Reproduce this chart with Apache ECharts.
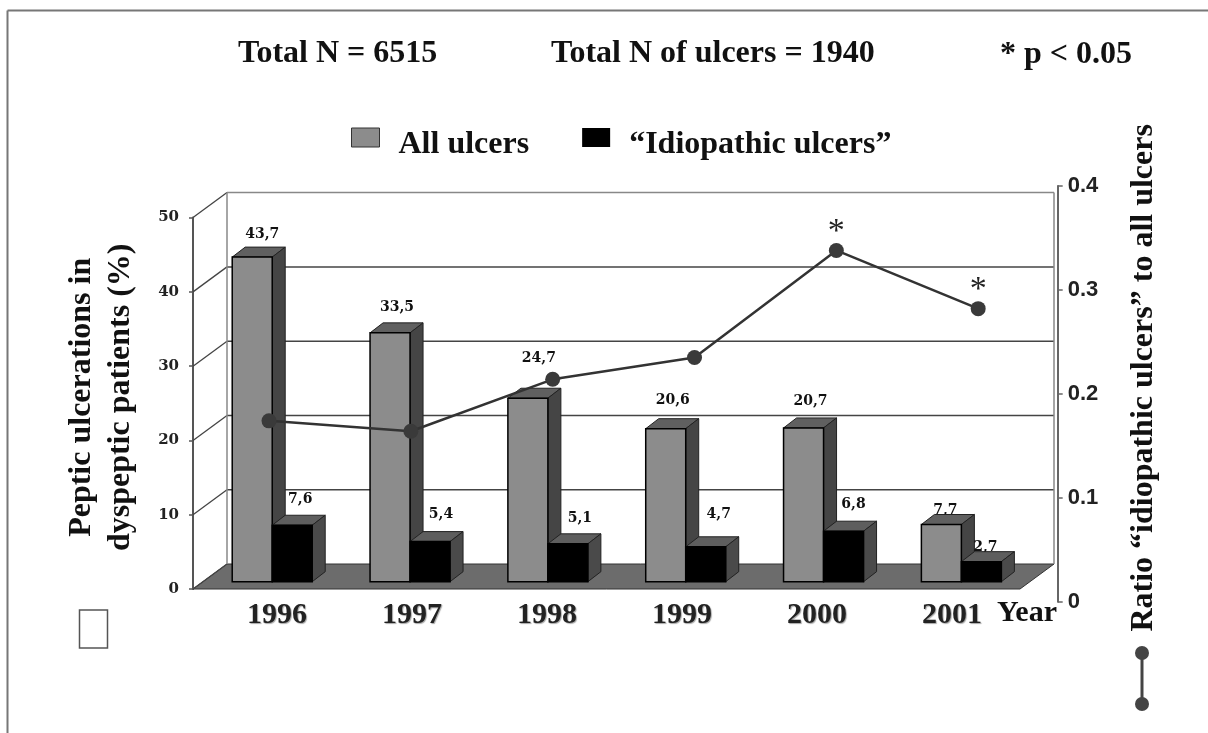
<!DOCTYPE html>
<html>
<head>
<meta charset="utf-8">
<title>Peptic ulcerations</title>
<style>
html, body { margin: 0; padding: 0; background: #fff; }
#chart { width: 1208px; height: 733px; }
</style>
<script src="https://cdn.jsdelivr.net/npm/echarts@6/dist/echarts.min.js"></script>
</head>
<body>
<div id="chart"></div>
<script>
// data
const years = ['1996', '1997', '1998', '1999', '2000', '2001'];
const allUlcers = [43.7, 33.5, 24.7, 20.6, 20.7, 7.7];
const idiopathicUlcers = [7.6, 5.4, 5.1, 4.7, 6.8, 2.7];
const ratio = [0.174, 0.164, 0.214, 0.235, 0.338, 0.282];
const significant = [false, false, false, false, true, true];
const leftTicks = [0, 10, 20, 30, 40, 50];

const SERIF = '"Liberation Serif", serif';
const WALL_DX = 34, WALL_DY = 25;   // depth of the 3d floor
const BAR_DX = 13, BAR_DY = 10;     // depth of a bar
const PLANE_DY = 7.3;               // bars stand this far behind the front edge
const BAR_W = 40;

// the labels are placed by hand in the figure: shift right and lift per year
const allLabelShift = [10, 7, 11, 7, 7, 4];
const allLabelLift = [13, 16, 30, 18, 17, 4];
const idioLabelShift = [8, 11, 12, 13, 10, 4];
const idioLabelLift = [16, 17, 15, 22, 17, 4];

// legend swatch sits higher than its text, the empty subpath pads the icon box
const SWATCH = 'path://M0 0L28 0L28 19L0 19ZM0 33L0 33Z';

const chart = echarts.init(document.getElementById('chart'));

// floor of the fake 3d box
function renderFloor(params, api) {
    const c = params.coordSys;
    const y = api.coord([0, 0])[1];
    return {
        type: 'polygon',
        shape: { points: [[c.x, y], [c.x + c.width, y], [c.x + c.width + WALL_DX, y - WALL_DY], [c.x + WALL_DX, y - WALL_DY]] },
        style: { fill: '#6c6c6c', stroke: '#333', lineWidth: 1 }
    };
}

// one wall line per left axis tick, plus the diagonal back to the axis
function renderWall(params, api) {
    const c = params.coordSys;
    const v = api.value(0);
    const y = api.coord([0, v])[1];
    const top = v === 50;
    const children = [
        { type: 'line', shape: { x1: c.x, y1: y, x2: c.x + WALL_DX, y2: y - WALL_DY }, style: { stroke: '#444', lineWidth: 1.3 } }
    ];
    if (v > 0) {
        children.push({
            type: 'line',
            shape: { x1: c.x + WALL_DX, y1: y - WALL_DY, x2: c.x + c.width + WALL_DX, y2: y - WALL_DY },
            style: { stroke: top ? '#888' : '#444', lineWidth: 1.5 }
        });
    }
    if (top) {
        const bottom = api.coord([0, 0])[1] - WALL_DY;
        [c.x + WALL_DX, c.x + c.width + WALL_DX].forEach(function(x) {
            children.push({
                type: 'line',
                shape: { x1: x, y1: y - WALL_DY, x2: x, y2: bottom },
                style: { stroke: '#888', lineWidth: 1.5 }
            });
        });
    }
    return { type: 'group', children: children };
}

// 3d bar, left is the shift of the front face from the category centre
function barRenderer(left, front, side, top, labelShift, labelLift) {
    return function(params, api) {
        const i = api.value(0);
        const v = api.value(1);
        const base = api.coord([i, 0]);
        const head = api.coord([i, v]);
        const x = base[0] + left;
        const y0 = base[1] - PLANE_DY;
        const y1 = head[1] - PLANE_DY;
        return {
            type: 'group',
            children: [
                {
                    type: 'text',
                    style: {
                        text: String(v).replace('.', ','),
                        x: x + BAR_W / 2 + labelShift[i],
                        y: y1 - BAR_DY - labelLift[i],
                        align: 'center',
                        verticalAlign: 'middle',
                        font: 'bold 14px "DejaVu Serif"',
                        fill: '#111'
                    }
                },
                {
                    type: 'polygon',
                    shape: { points: [[x, y1], [x + BAR_W, y1], [x + BAR_W + BAR_DX, y1 - BAR_DY], [x + BAR_DX, y1 - BAR_DY]] },
                    style: { fill: top, stroke: '#222', lineWidth: 1 }
                },
                {
                    type: 'polygon',
                    shape: { points: [[x + BAR_W, y1], [x + BAR_W + BAR_DX, y1 - BAR_DY], [x + BAR_W + BAR_DX, y0 - BAR_DY], [x + BAR_W, y0]] },
                    style: { fill: side, stroke: '#222', lineWidth: 1 }
                },
                {
                    type: 'rect',
                    shape: { x: x, y: y1, width: BAR_W, height: y0 - y1 },
                    style: { fill: front, stroke: '#000', lineWidth: 1.5 }
                }
            ]
        };
    };
}

const option = {
    backgroundColor: '#fff',
    animation: false,
    title: [
        { text: 'Total N = 6515', left: 238, top: 38 },
        { text: 'Total N of ulcers = 1940', left: 551, top: 38 },
        { text: '* p < 0.05', left: 1000, top: 39 },
        { text: 'Year', left: 997, top: 598, size: 30 }
    ].map(function(t) {
        t.textStyle = { fontFamily: SERIF, fontWeight: 'bold', fontSize: t.size || 32, color: '#111' };
        t.padding = 0;
        return t;
    }),
    legend: {
        left: 351,
        top: 127.5,
        padding: 0,
        itemWidth: 28,
        itemHeight: 33,
        itemGap: 53,
        data: [
            { name: 'All ulcers', icon: SWATCH, itemStyle: { borderColor: '#333', borderWidth: 1 } },
            { name: '“Idiopathic ulcers”', icon: SWATCH }
        ],
        textStyle: { fontFamily: SERIF, fontWeight: 'bold', fontSize: 32, color: '#111', padding: [0, 0, 0, 14] }
    },
    grid: [
        { left: 193, top: 217.6, width: 827, height: 371.4 },
        { left: 198.1, top: 186, width: 851, height: 415.7 },
        { left: 209.5, top: 590, width: 810, height: 1 }
    ],
    xAxis: [
        { type: 'category', gridIndex: 0, data: years, show: false },
        { type: 'category', gridIndex: 1, data: years, show: false },
        {
            type: 'category',
            gridIndex: 2,
            data: years,
            axisLine: { show: false },
            axisTick: { show: false },
            axisLabel: {
                margin: 9,
                fontFamily: SERIF,
                fontWeight: 'bold',
                fontSize: 30,
                color: '#222',
                textShadowColor: 'rgba(0,0,0,0.35)',
                textShadowBlur: 1,
                textShadowOffsetX: 1,
                textShadowOffsetY: 1
            }
        }
    ],
    yAxis: [
        {
            type: 'value',
            gridIndex: 0,
            min: 0,
            max: 50,
            interval: 10,
            name: 'Peptic ulcerations in\ndyspeptic patients (%)',
            nameLocation: 'middle',
            nameGap: 53,
            nameRotate: 90,
            nameTextStyle: { fontFamily: SERIF, fontWeight: 'bold', fontSize: 32, color: '#111', lineHeight: 39, padding: [0, 0, 0, 12] },
            axisLine: { show: true, lineStyle: { color: '#555', width: 2 } },
            axisTick: { show: true, length: 4, lineStyle: { color: '#555', width: 1.5 } },
            axisLabel: { margin: 14, fontFamily: '"DejaVu Serif"', fontWeight: 'bold', fontSize: 15, color: '#222' },
            splitLine: { show: false }
        },
        {
            type: 'value',
            gridIndex: 1,
            position: 'right',
            offset: 8.6,
            min: 0,
            max: 0.4,
            interval: 0.1,
            name: 'Ratio “idiopathic ulcers” to all ulcers',
            nameLocation: 'middle',
            nameGap: 70,
            nameRotate: 90,
            nameTextStyle: { fontFamily: SERIF, fontWeight: 'bold', fontSize: 32, color: '#111', padding: [0, 0, 0, 32] },
            axisLine: { show: true, lineStyle: { color: '#666', width: 2 } },
            axisTick: { show: true, length: 5, lineStyle: { color: '#666', width: 1.5 } },
            axisLabel: {
                margin: 10,
                fontFamily: '"Liberation Sans"',
                fontWeight: 'bold',
                fontSize: 22,
                color: '#222',
                formatter: function(v) { return v === 0 ? '0' : v.toFixed(1); }
            },
            splitLine: { show: false }
        },
        { type: 'value', gridIndex: 2, show: false }
    ],
    series: [
        {
            name: 'floor',
            type: 'custom',
            xAxisIndex: 0,
            yAxisIndex: 0,
            z: 1,
            silent: true,
            clip: false,
            renderItem: renderFloor,
            data: [[0, 0]]
        },
        {
            name: 'wall',
            type: 'custom',
            xAxisIndex: 0,
            yAxisIndex: 0,
            z: 1,
            silent: true,
            clip: false,
            renderItem: renderWall,
            encode: { y: 0 },
            data: leftTicks.map(function(v) { return [v]; })
        },
        {
            name: 'All ulcers',
            type: 'custom',
            xAxisIndex: 0,
            yAxisIndex: 0,
            z: 2,
            clip: false,
            itemStyle: { color: '#8c8c8c' },
            renderItem: barRenderer(10.3 - BAR_W, '#8c8c8c', '#454545', '#606060', allLabelShift, allLabelLift),
            encode: { x: 0, y: 1 },
            data: allUlcers.map(function(v, i) { return [i, v]; })
        },
        {
            name: '“Idiopathic ulcers”',
            type: 'custom',
            xAxisIndex: 0,
            yAxisIndex: 0,
            z: 3,
            clip: false,
            itemStyle: { color: '#000' },
            renderItem: barRenderer(10.3, '#000', '#4a4a4a', '#5e5e5e', idioLabelShift, idioLabelLift),
            encode: { x: 0, y: 1 },
            data: idiopathicUlcers.map(function(v, i) { return [i, v]; })
        },
        {
            name: 'Ratio',
            type: 'line',
            xAxisIndex: 1,
            yAxisIndex: 1,
            z: 5,
            data: ratio,
            symbol: 'circle',
            symbolSize: 15,
            lineStyle: { color: '#333', width: 2.5 },
            itemStyle: { color: '#3a3a3a' },
            label: {
                show: true,
                position: 'top',
                distance: -6,
                fontFamily: SERIF,
                fontSize: 34,
                color: '#222',
                formatter: function(p) { return significant[p.dataIndex] ? '*' : ''; }
            }
        }
    ],
    graphic: [
        // frame left over from the scan, key of the ratio line, empty box
        { type: 'line', shape: { x1: 7.5, y1: 10.5, x2: 1208, y2: 10.5 }, style: { stroke: '#777', lineWidth: 2 } },
        { type: 'line', shape: { x1: 7.5, y1: 10.5, x2: 7.5, y2: 733 }, style: { stroke: '#777', lineWidth: 2 } },
        { type: 'rect', shape: { x: 79.5, y: 610, width: 28, height: 38 }, style: { fill: '#fff', stroke: '#555', lineWidth: 1.5 } },
        { type: 'line', shape: { x1: 1142, y1: 653, x2: 1142, y2: 704 }, style: { stroke: '#444', lineWidth: 3 } },
        { type: 'circle', shape: { cx: 1142, cy: 653, r: 7 }, style: { fill: '#444' } },
        { type: 'circle', shape: { cx: 1142, cy: 704, r: 7 }, style: { fill: '#444' } }
    ]
};

chart.setOption(option);
</script>
</body>
</html>
